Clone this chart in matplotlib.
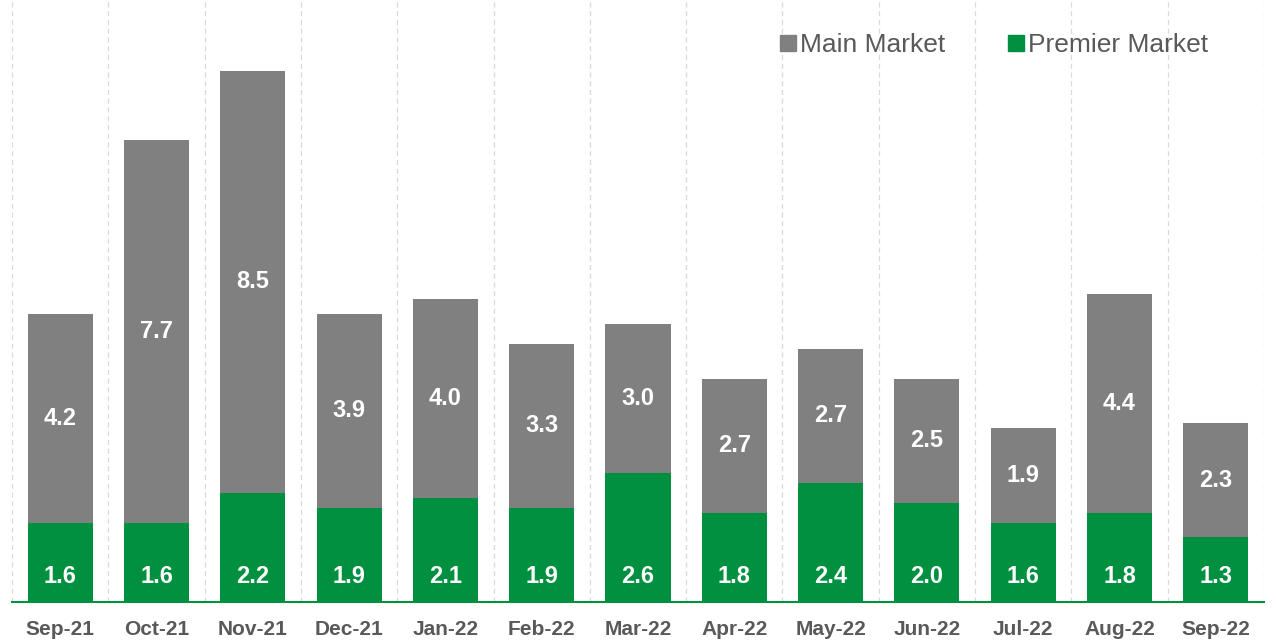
import matplotlib
matplotlib.use("Agg")
import matplotlib.pyplot as plt
from matplotlib.lines import Line2D
import numpy as np

plt.rcParams['font.family'] = ['Liberation Sans', 'DejaVu Sans']

# data
months = ["Sep-21", "Oct-21", "Nov-21", "Dec-21", "Jan-22", "Feb-22", "Mar-22",
          "Apr-22", "May-22", "Jun-22", "Jul-22", "Aug-22", "Sep-22"]
premier = [1.6, 1.6, 2.2, 1.9, 2.1, 1.9, 2.6, 1.8, 2.4, 2.0, 1.6, 1.8, 1.3]
main = [4.2, 7.7, 8.5, 3.9, 4.0, 3.3, 3.0, 2.7, 2.7, 2.5, 1.9, 4.4, 2.3]

GREEN = "#00903F"
GRAY = "#808080"
TXT = "#595959"

fig = plt.figure(figsize=(12.76, 6.44), dpi=100)
ax = fig.add_axes([12 / 1276, 1 - 602 / 644, 1252 / 1276, 602 / 644])

x = np.arange(len(months))
ax.bar(x, premier, width=0.675, color=GREEN, zorder=2)
ax.bar(x, main, width=0.675, bottom=premier, color=GRAY, zorder=2)

# value labels
for i in range(len(months)):
    ax.annotate(f"{premier[i]:.1f}", (x[i], 0), xytext=(0, 18.5), textcoords="offset points",
                ha="center", va="center", color="white", fontsize=17, fontweight="bold")
    ax.text(x[i], premier[i] + main[i] / 2, f"{main[i]:.1f}", ha="center", va="center",
            color="white", fontsize=17, fontweight="bold")

# vertical dashed separators
for b in np.arange(len(months) + 1) - 0.5:
    ax.axvline(b, color="#d9d9d9", lw=0.9, ls=(0, (4, 3)), zorder=0)

ax.set_xlim(-0.5, len(months) - 0.5)
ax.set_ylim(0, 12.13)
ax.set_yticks([])
ax.set_xticks(x)
ax.set_xticklabels(months, fontsize=15, fontweight="bold", color=TXT)
ax.tick_params(axis="x", length=0, pad=13)
for s in ["top", "right", "left"]:
    ax.spines[s].set_visible(False)
ax.spines["bottom"].set_color(GREEN)
ax.spines["bottom"].set_linewidth(1.5)

handles = [Line2D([], [], marker="s", ls="", color=GRAY, markersize=11),
           Line2D([], [], marker="s", ls="", color=GREEN, markersize=11)]
leg = ax.legend(handles, ["Main Market", "Premier Market"], ncol=2, frameon=False,
                loc="upper right", bbox_to_anchor=(0.974, 0.985), fontsize=19,
                handletextpad=0.05, columnspacing=2.27, handlelength=0.8)
for t in leg.get_texts():
    t.set_color(TXT)

fig.savefig("out.png", dpi=100)
